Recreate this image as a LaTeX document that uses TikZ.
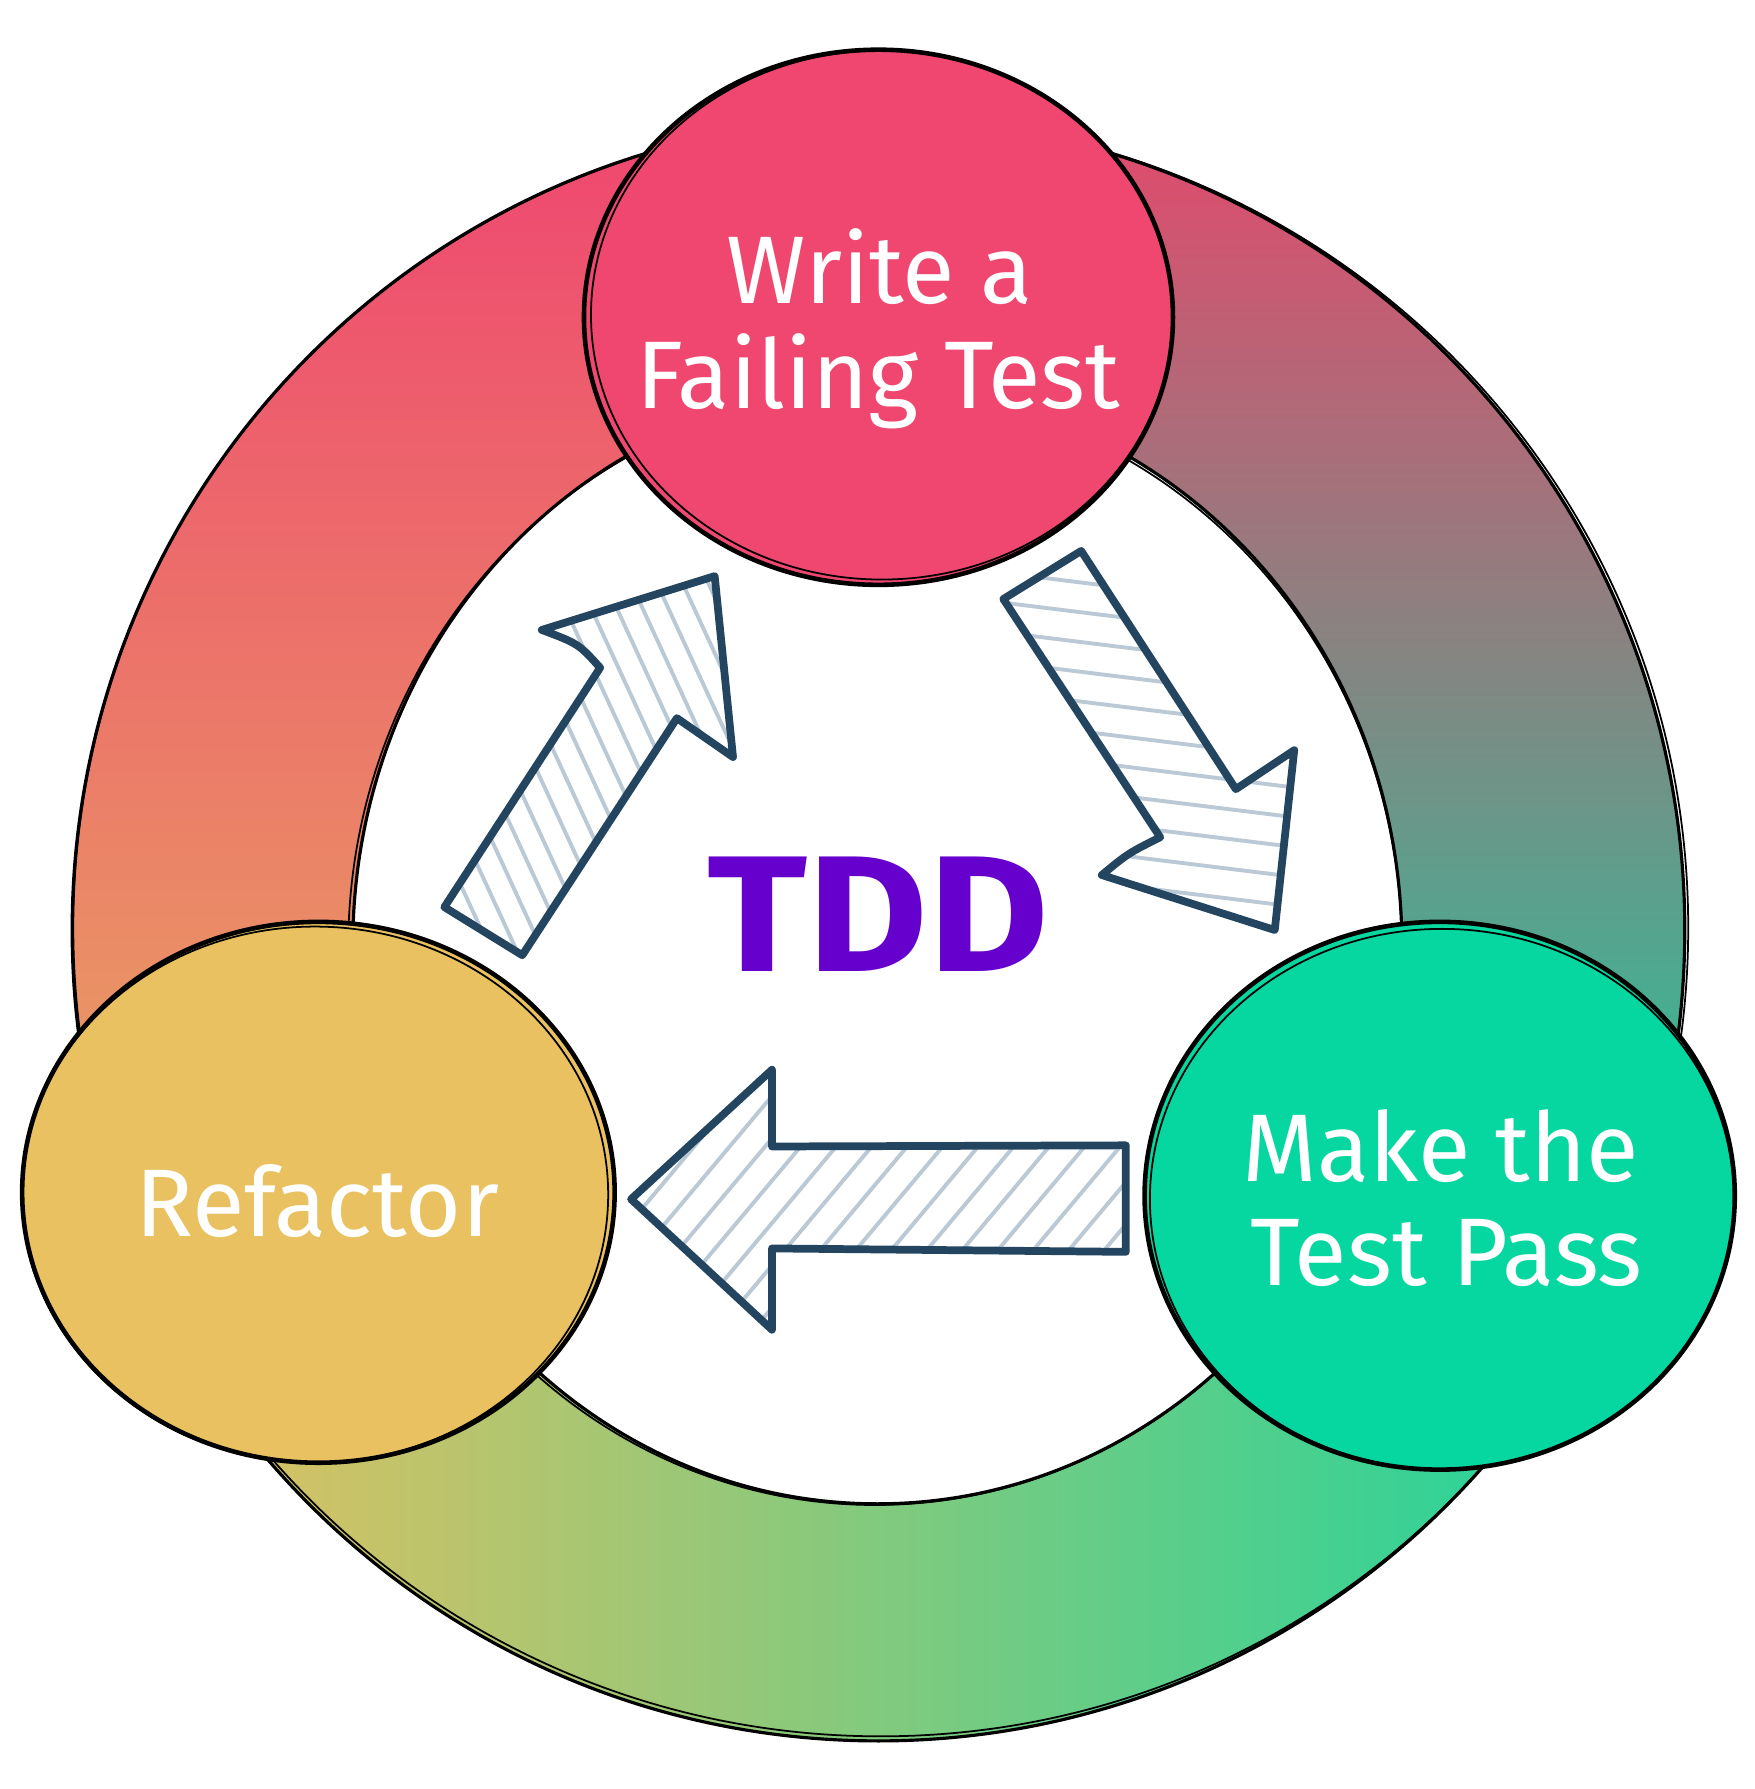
\documentclass[tikz,border=0pt]{standalone}
\usepackage{fontspec}
\usepackage{graphicx}
\setmainfont{Fira Sans}
\usetikzlibrary{shapes.geometric,calc}
\definecolor{pinkc}{HTML}{EF476F}
\definecolor{yelc}{HTML}{E9C160}
\definecolor{grnc}{HTML}{06D6A0}
\definecolor{arrc}{HTML}{24455F}
\definecolor{hatc}{HTML}{BAC9D5}
\definecolor{tddc}{HTML}{6600CC}
\definecolor{segAtop}{HTML}{EF4670}
\definecolor{segAbot}{HTML}{E8A862}
\definecolor{segBtop}{HTML}{E3496C}
\definecolor{segBbot}{HTML}{1ACA9C}
\definecolor{segCleft}{HTML}{E3C060}
\definecolor{segCright}{HTML}{20D49C}
\begin{document}
\begin{tikzpicture}[x=0.01145cm,y=-0.01145cm,
  stage/.style={ellipse, draw=black, line width=1.3pt, inner sep=0pt},
  sketch/.style={draw=black, line width=0.5pt},
  ringline/.style={draw=black, line width=0.9pt},
  lbl/.style={text=white, font=\fontsize{27.3}{30}\selectfont, inner sep=0pt, anchor=base},
  arrline/.style={draw=arrc, line width=2.2pt, line join=round, line cap=round},
  hatchline/.style={draw=hatc, line width=1.1pt, line cap=round}]
\path[use as bounding box] (0,0) rectangle (1532,1562);
\fill[white] (0,0) rectangle (1532,1562);

% ---------- ring ----------
\def\ocx{767}\def\ocy{812}\def\orx{704}\def\ory{708}
\def\icx{766}\def\icy{826}\def\irx{458}\def\iry{487}
\shade[top color=segAtop, bottom color=segAbot]
  plot[domain=155:270,samples=60] ({\ocx+\orx*cos(\x)},{\ocy+\ory*sin(\x)})
  -- plot[domain=270:155,samples=60] ({\icx+\irx*cos(\x)},{\icy+\iry*sin(\x)}) -- cycle;
\shade[top color=segBtop, bottom color=segBbot]
  plot[domain=-90:25,samples=60] ({\ocx+\orx*cos(\x)},{\ocy+\ory*sin(\x)})
  -- plot[domain=25:-90,samples=60] ({\icx+\irx*cos(\x)},{\icy+\iry*sin(\x)}) -- cycle;
\shade[left color=segCleft, right color=segCright]
  plot[domain=25:155,samples=60] ({\ocx+\orx*cos(\x)},{\ocy+\ory*sin(\x)})
  -- plot[domain=155:25,samples=60] ({\icx+\irx*cos(\x)},{\icy+\iry*sin(\x)}) -- cycle;
\draw[ringline] (\ocx,\ocy) ellipse [x radius=\orx, y radius=\ory];
\draw[sketch] (\ocx+2,\ocy-2) ellipse [x radius=\orx+1, y radius=\ory-2];
\draw[ringline] (\icx,\icy) ellipse [x radius=\irx, y radius=\iry];
\draw[sketch] (\icx-2,\icy+2) ellipse [x radius=\irx+2, y radius=\iry-1];

% ---------- stages ----------
\node[stage, fill=pinkc, minimum width=5.885cm, minimum height=5.347cm] (write) at (767,277) {};
\draw[sketch] ($(write.center)+(3,-2)$) ellipse [x radius=254, y radius=231];
\node[stage, fill=yelc, minimum width=5.920cm, minimum height=5.404cm] (refac) at (278,1041) {};
\draw[sketch] ($(refac.center)+(-3,2)$) ellipse [x radius=256, y radius=234];
\node[stage, fill=grnc, minimum width=5.897cm, minimum height=5.473cm] (pass) at (1257,1044) {};
\draw[sketch] ($(pass.center)+(2,3)$) ellipse [x radius=255, y radius=236];

\node[lbl] (w1) at (768,265) {Write a};
\node[lbl] (w2) at (767,357) {Failing Test};
\node[lbl] (r1) at (277,1080) {Refactor};
\node[lbl] (p1) at (1258,1032) {Make the};
\node[lbl] (p2) at (1263,1122) {Test Pass};

\node[anchor=base, inner sep=0pt, text=tddc, font=\fontsize{47}{50}\selectfont\bfseries] (tdd) at (767,848) {\scalebox{1.12}[1]{TDD}};

% ---------- arrow 1 : Refactor -> Write ----------
\coordinate (a1) at (388,792);
\coordinate (a2) at (524,583);
\coordinate (a3) at (473,550);
\coordinate (a4) at (624,503);
\coordinate (a5) at (640,661);
\coordinate (a6) at (591,627);
\coordinate (a7) at (456,834);
\begin{scope}
\clip (a1) -- (a2) .. controls (505,562) .. (a3) -- (a4) -- (a5) -- (a6) -- (a7) -- cycle;
\foreach \i in {0,...,20} \draw[hatchline] ({200+\i*22.5},480) -- ({375+\i*22.5},860);
\end{scope}
\draw[arrline] (a1) -- (a2) .. controls (505,562) .. (a3) -- (a4) -- (a5) -- (a6) -- (a7) -- cycle;

% ---------- arrow 2 : Write -> Make ----------
\coordinate (b1) at (876,523);
\coordinate (b2) at (944,481);
\coordinate (b3) at (1079,689);
\coordinate (b4) at (1130,655);
\coordinate (b5) at (1113,812);
\coordinate (b6) at (962,764);
\coordinate (b7) at (1013,731);
\begin{scope}
\clip (b1) -- (b2) -- (b3) -- (b4) -- (b5) -- (b6) .. controls (985,745) .. (b7) -- cycle;
\foreach \i in {0,...,14} \draw[hatchline] (850,{445+\i*26}) -- (1150,{482+\i*26});
\end{scope}
\draw[arrline] (b1) -- (b2) -- (b3) -- (b4) -- (b5) -- (b6) .. controls (985,745) .. (b7) -- cycle;

% ---------- arrow 3 : Make -> Refactor ----------
\coordinate (c1) at (551,1047);
\coordinate (c2) at (674,934);
\coordinate (c3) at (674,1001);
\coordinate (c4) at (983,1000);
\coordinate (c5) at (983,1093);
\coordinate (c6) at (674,1090);
\coordinate (c7) at (674,1161);
\begin{scope}
\clip (c1) -- (c2) -- (c3) -- (c4) -- (c5) -- (c6) -- (c7) -- cycle;
\foreach \i in {0,...,16} \draw[hatchline] ({425+\i*31},1180) -- ({643+\i*31},920);
\end{scope}
\draw[arrline] (c1) -- (c2) -- (c3) -- (c4) -- (c5) -- (c6) -- (c7) -- cycle;
\end{tikzpicture}
\end{document}
